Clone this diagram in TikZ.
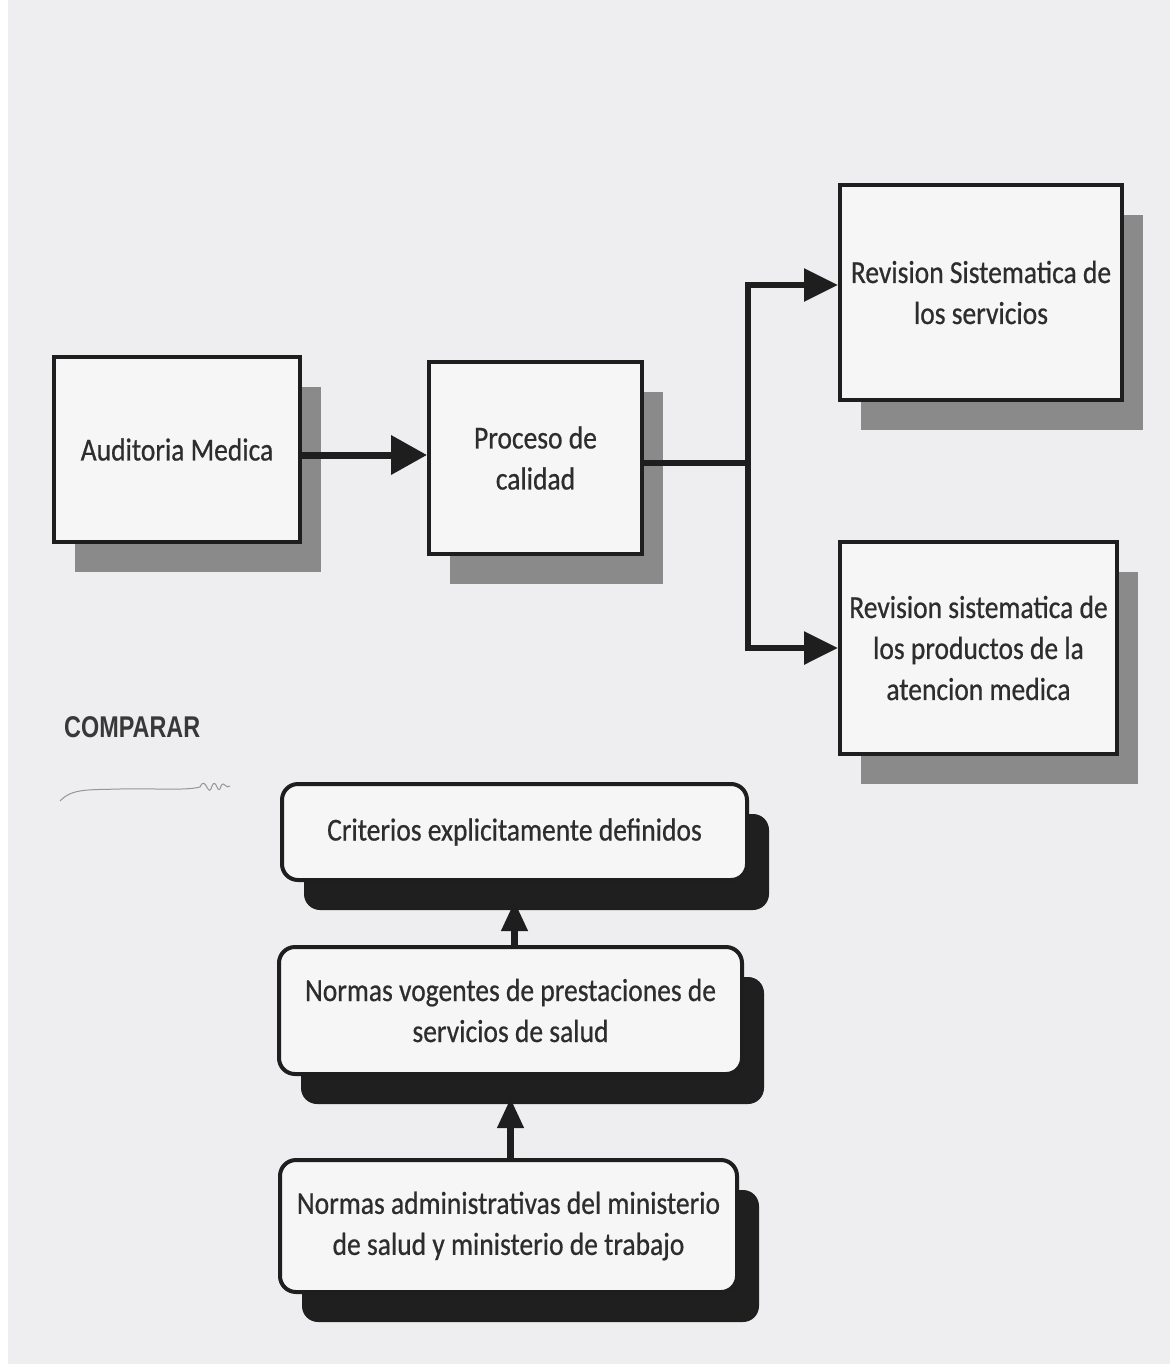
\documentclass[tikz,border=0pt]{standalone}
\usepackage{fontspec}
\setmainfont{Carlito}[FakeStretch=0.86, FakeBold=0.6]
\newfontfamily\arialfont{Liberation Sans}[FakeStretch=0.78]
\usetikzlibrary{arrows.meta,shadows}
\definecolor{pagebg}{RGB}{238,238,240}
\definecolor{boxbg}{RGB}{246,246,246}
\definecolor{shadowg}{RGB}{138,138,138}
\definecolor{inkc}{RGB}{30,30,30}
\definecolor{textc}{RGB}{45,45,45}
\definecolor{squig}{RGB}{150,150,150}
\tikzset{
  sqbox/.style={draw=inkc, line width=4pt, fill=boxbg, align=center, inner sep=0pt,
    font=\fontsize{32}{41}\selectfont, text=textc,
    general shadow={shadow xshift=21pt, shadow yshift=-30pt, fill=shadowg}},
  rbox/.style={draw=inkc, line width=4pt, fill=boxbg, rounded corners=16pt, align=center, inner sep=0pt,
    font=\fontsize{32}{41}\selectfont, text=textc,
    general shadow={shadow xshift=22pt, shadow yshift=-30pt, fill=black!88}},
  bigarrow/.style={draw=inkc, line width=7pt, -{Triangle[length=36pt,width=38pt]}},
  midarrow/.style={draw=inkc, line width=6pt, -{Triangle[length=34pt,width=32pt]}},
  conn/.style={draw=inkc, line width=6pt},
  uparrow/.style={draw=inkc, line width=7pt, -{Triangle[length=30pt,width=25pt]}},
}
\begin{document}
\begin{tikzpicture}[x=1pt,y=-1pt]
\useasboundingbox (0,0) rectangle (1170,1364);
\fill[pagebg] (0,0) rectangle (1170,1364);
\fill[white] (0,0) rectangle (8,1364);

% upper flow
\node[sqbox, minimum width=246pt, minimum height=185pt, anchor=north west] (aud) at (52,355) {Auditoria Medica};
\node[sqbox, minimum width=213pt, minimum height=192pt, anchor=north west] (proc) at (427,360) {Proceso de\\calidad};
\node[sqbox, minimum width=282pt, minimum height=215pt, anchor=north west] (rev1) at (838,183) {Revision Sistematica de\\los servicios};
\node[sqbox, minimum width=277pt, minimum height=212pt, anchor=north west] (rev2) at (838,540) {Revision sistematica de\\los productos de la\\atencion medica};

\coordinate (split) at (748,463);
\coordinate (up) at (748,285);
\coordinate (down) at (748,648);

\draw[bigarrow] (aud.east |- 0,455) -- (proc.west |- 0,455);
\draw[conn] (proc.east |- split) -- (split);
\draw[conn, line cap=rect] (up) -- (down);
\draw[midarrow] (up) -- (rev1.west |- up);
\draw[midarrow] (down) -- (rev2.west |- down);

% COMPARAR
\node[font=\arialfont\bfseries\fontsize{30}{32}\selectfont, text=black!78, anchor=west, inner sep=0pt] (comp) at (64,727) {COMPARAR};
\draw[squig, line width=1pt] (60,801) .. controls (72,788) and (90,790) .. (120,789)
  .. controls (150,788) and (185,791) .. (200,787) .. controls (206,774) and (208,800) .. (212,786)
  .. controls (216,776) and (218,798) .. (221,786) .. controls (224,780) and (226,790) .. (230,786);

% lower flow
\node[rbox, minimum width=465pt, minimum height=96pt, anchor=north west] (crit) at (280,782) {Criterios explicitamente definidos};
\node[rbox, minimum width=463pt, minimum height=127pt, anchor=north west] (norm1) at (277,945) {Normas vogentes de prestaciones de\\servicios de salud};
\node[rbox, minimum width=457pt, minimum height=132pt, anchor=north west] (norm2) at (278,1158) {Normas administrativas del ministerio\\de salud y ministerio de trabajo};

\coordinate (tip1) at ([yshift=-19pt]crit.south);
\coordinate (tip2) at ([yshift=-22pt]norm1.south);
\draw[uparrow] (norm1.north -| tip1) -- (tip1);
\draw[uparrow] (norm2.north -| tip2) -- (tip2);
\end{tikzpicture}
\end{document}
